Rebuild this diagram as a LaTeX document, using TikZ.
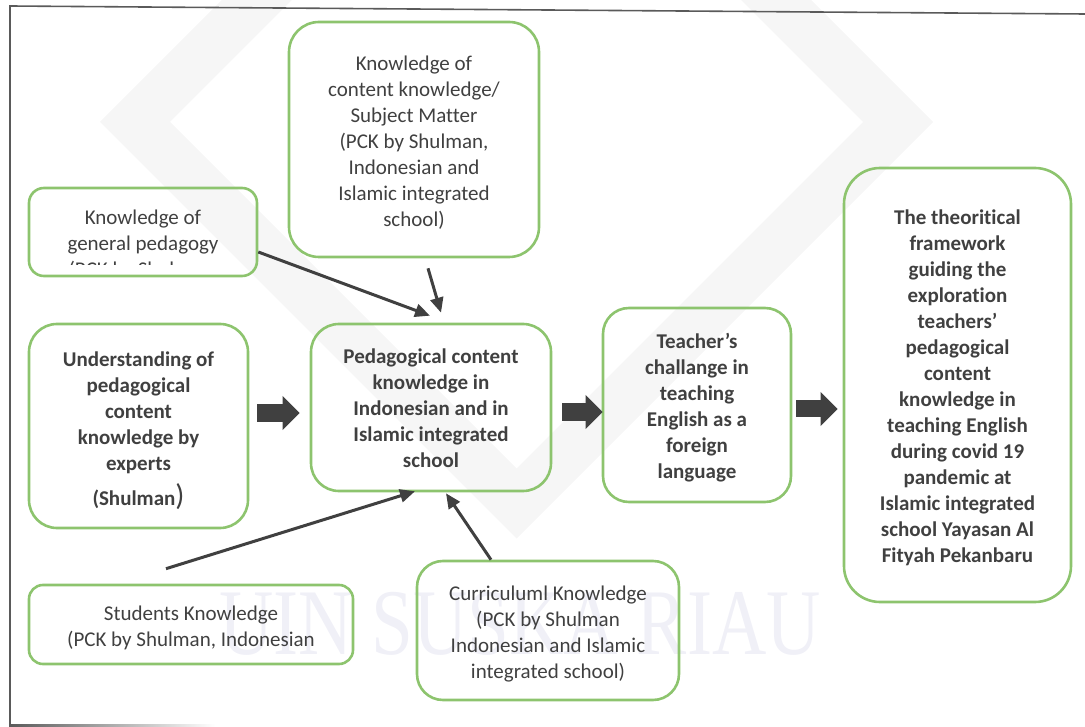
\documentclass[tikz,border=0pt]{standalone}
\usepackage{fontspec}
\setmainfont{Carlito}[Ligatures=NoCommon]
\newfontfamily\wmfont{Liberation Serif}
\usetikzlibrary{arrows.meta}
\definecolor{boxgreen}{RGB}{141,196,110}
\definecolor{ink}{RGB}{64,64,64}
\definecolor{framegray}{RGB}{90,90,90}
\definecolor{wmark}{RGB}{240,240,247}
\definecolor{wlogo}{RGB}{246,246,246}
\begin{document}
\begin{tikzpicture}[x=1pt,y=-1pt,
  every node/.style={text=ink, align=center, inner sep=0pt},
  box/.style={draw=boxgreen, line width=2.6pt},
  plain/.style={font=\fontsize{21}{26}\selectfont},
  bold/.style={font=\fontsize{21}{26}\selectfont\bfseries},
  thin/.style={draw=ink, line width=3pt, -{Triangle[length=15pt,width=13pt]}},
  block/.style={draw=ink, line width=17pt, -{Triangle[length=17pt,width=33pt]}}]
\useasboundingbox (0,0) rectangle (1085,727);

% faint background emblem: a large diamond band and the lettering
\begin{scope}
  \clip (0,0) rectangle (1085,727);
  \fill[wlogo, even odd rule]
    (100,122) -- (516.5,538.5) -- (933,122) -- (516.5,-294.5) -- cycle
    (170,122) -- (516.5,468.5) -- (863,122) -- (516.5,-224.5) -- cycle;
\end{scope}
\node[text=wmark, font=\wmfont\fontsize{94}{94}\selectfont, xscale=0.8] (wm) at (520,624) {UIN SUSKA RIAU};

% page frame
\draw[framegray, line width=1.6pt] (1085,14) -- (10,6) -- (10,725);
\shade[left color=framegray, right color=white] (9.2,724) rectangle (215,726);

% box outlines
\node[box, rounded corners=30pt, minimum width=250pt, minimum height=235pt] (kc) at (414,139.5) {};
\node[box, rounded corners=15pt, minimum width=228pt, minimum height=88pt] (gp) at (143,232) {};
\node[box, rounded corners=28pt, minimum width=219pt, minimum height=204pt] (und) at (138.5,426) {};
\node[box, rounded corners=28pt, minimum width=240pt, minimum height=167pt] (pck) at (431,407.5) {};
\node[box, rounded corners=26pt, minimum width=188pt, minimum height=194pt] (tc) at (697,405) {};
\node[box, rounded corners=36pt, minimum width=227pt, minimum height=434pt] (tf) at (957.5,385) {};
\node[box, rounded corners=14pt, minimum width=324pt, minimum height=79pt] (sk) at (191,624.5) {};
\node[box, rounded corners=26pt, minimum width=262pt, minimum height=139pt] (cur) at (548,630.5) {};

% box texts
\node[plain] (kct) at ([yshift=-3pt]kc.center)
  {Knowledge of\\content knowledge/\\Subject Matter\\(PCK by Shulman,\\Indonesian and\\Islamic integrated\\school)};
\begin{scope}
  \clip (28,187) rectangle (258,265);
  \node[plain] (gpt) at (143,245)
    {Knowledge of\\general pedagogy\\(PCK by Shulman,};
\end{scope}
\node[bold] (undt) at ([yshift=-4.5pt]und.center)
  {Understanding of\\pedagogical\\content\\knowledge by\\experts\\[9pt](Shulman{\fontsize{30}{30}\selectfont\mdseries)}};
\node[bold] (pckt) at ([yshift=-1pt]pck.center)
  {Pedagogical content\\knowledge in\\Indonesian and in\\Islamic integrated\\school};
\node[bold] (tct) at ([yshift=-3pt]tc.center)
  {Teacher’s\\challange in\\teaching\\English as a\\foreign\\language};
\node[bold] (tft) at ([yshift=-3pt]tf.center)
  {The theoritical\\framework\\guiding the\\exploration\\teachers’\\pedagogical\\content\\knowledge in\\teaching English\\during covid 19\\pandemic at\\Islamic integrated\\school Yayasan Al\\Fityah Pekanbaru};
\node[plain] (skt) at ([yshift=-3pt]sk.center)
  {Students Knowledge\\(PCK by Shulman, Indonesian};
\node[plain] (curt) at ([yshift=-3.5pt]cur.center)
  {Curriculuml Knowledge\\(PCK by Shulman\\Indonesian and Islamic\\integrated school)};

% block arrows along the main flow
\draw[block] ([xshift=8pt,yshift=13pt]und.east) -- ([xshift=-10pt,yshift=-5.5pt]pck.west);
\draw[block] ([xshift=10pt,yshift=-4.5pt]pck.east) -- ([xshift=1pt,yshift=-7pt]tc.west);
\draw[block] ([xshift=4pt,yshift=-4pt]tc.east) -- ([xshift=-5pt,yshift=-24pt]tf.west);

% thin arrows into the central box
\draw[thin] ([yshift=-20pt]gp.east) -- ([xshift=-1pt,yshift=7pt]pck.north);
\draw[thin] ([xshift=14pt,yshift=-10pt]kc.south) -- ([xshift=10pt,yshift=10pt]pck.north);
\draw[thin] ([xshift=-25pt,yshift=15pt]sk.north) -- ([xshift=-16pt,yshift=1pt]pck.south);
\draw[thin] ([xshift=-57pt]cur.north) -- ([xshift=15pt,yshift=-1pt]pck.south);
\end{tikzpicture}
\end{document}
